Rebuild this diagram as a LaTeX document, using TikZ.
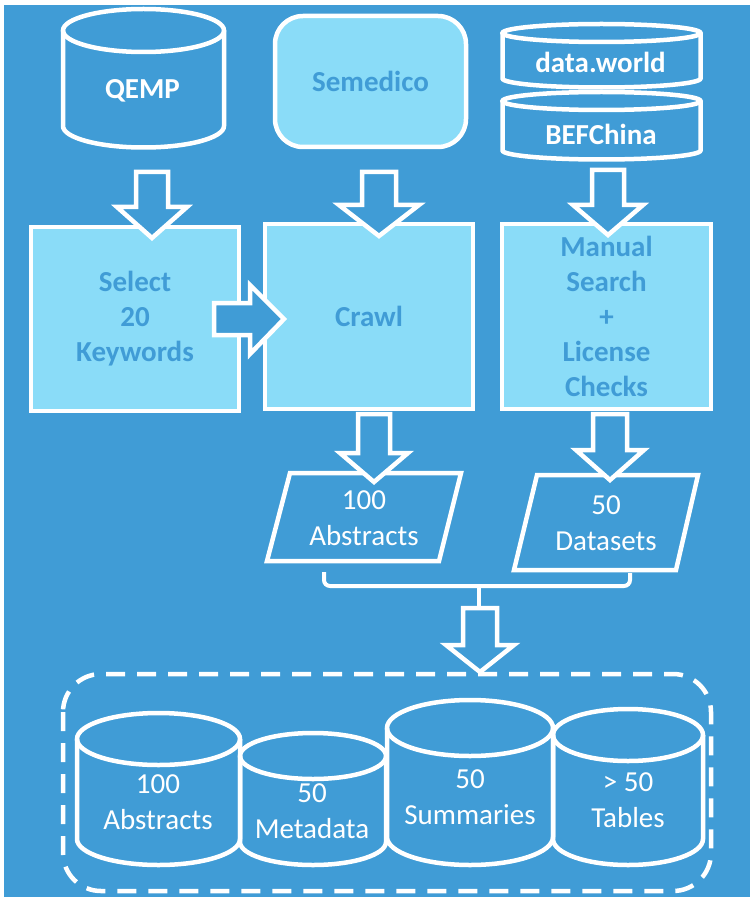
\documentclass[tikz,border=0pt]{standalone}
\usepackage{fontspec}
\setmainfont{Carlito}
\definecolor{bg}{RGB}{64,156,214}
\definecolor{lite}{RGB}{138,220,248}
\tikzset{
  wline/.style={draw=white, line width=4.5pt},
  lbox/.style={wline, fill=lite, inner sep=0pt},
  blk/.style={wline, fill=bg, line join=miter, miter limit=10},
  boldw/.style={text=white, font=\fontsize{29}{35}\selectfont\bfseries, align=center, inner sep=0pt},
  boldb/.style={text=bg, font=\fontsize{29}{35}\selectfont\bfseries, align=center},
  regw/.style={text=white, font=\fontsize{29}{35.5}\selectfont, align=center, inner sep=0pt},
  bracket/.style={draw=white, line width=4pt, rounded corners=6pt},
  dashbox/.style={draw=white, line width=4.5pt, dash pattern=on 19pt off 12pt, rounded corners=38pt}
}
\newcommand\mycyl[5]{% x1 x2 ytop ybot ry
  \pgfmathsetmacro\cx{(#1+#2)/2}\pgfmathsetmacro\rx{(#2-#1)/2}%
  \pgfmathsetmacro\ct{#3+#5}\pgfmathsetmacro\cb{#4-#5}%
  \draw[wline] (#1,\ct) -- (#1,\cb) arc[start angle=180,end angle=360,x radius=\rx pt,y radius=#5pt] -- (#2,\ct);
  \draw[wline] (\cx,\ct) ellipse[x radius=\rx pt, y radius=#5pt];
}
\newcommand\darrow[6]{% cx, shaft half, head half, ytop, ybase, ytip
  \draw[blk] (#1-#2,#4) -- (#1+#2,#4) -- (#1+#2,#5) -- (#1+#3,#5) -- (#1,#6) -- (#1-#3,#5) -- (#1-#2,#5) -- cycle;
}
\begin{document}
\begin{tikzpicture}[x=1pt,y=-1pt]
\useasboundingbox (0,0) rectangle (755,901);
\fill[white] (0,0) rectangle (755,901);
\fill[bg] (4,5) rectangle (750,897);

% top sources
\mycyl{63}{224}{9}{147.5}{21.5}
\node[boldw] (qemp) at (142.5,90.5) {QEMP};
\node[lbox, rounded corners=28pt, minimum width=191pt, minimum height=131pt] (semedico) at (370.5,81.5) {};
\node[boldb] at (semedico.center) {Semedico};
\mycyl{502.5}{700.5}{24}{87.5}{9}
\node[boldw] (dataworld) at (600.5,62.5) {data.world};
\mycyl{502.5}{700.5}{92}{159.5}{9}
\node[boldw] (befchina) at (601,134.5) {BEFChina};

% process boxes
\node[lbox, minimum width=208pt, minimum height=184pt, boldb] (select) at (135,319) {Select\\20\\Keywords};
\node[lbox, minimum width=208pt, minimum height=185pt, boldb] (crawl) at (369,316.5) {Crawl};
\node[lbox, minimum width=209pt, minimum height=185pt, boldb] (manual) at (606.5,316.5) {Manual\\Search\\+\\License\\Checks};

% block arrows
\darrow{152}{16}{35}{172}{207}{238}
\darrow{379}{17}{40}{172}{205}{236}
\darrow{608}{16}{35}{170}{205}{235}
\draw[blk] (214,303) -- (250,303) -- (250,285) -- (284,319) -- (250,354) -- (250,335) -- (214,335) -- cycle;

% outputs
\draw[wline] (290,473) -- (461,473) -- (439,561) -- (267,561) -- cycle;
\node[regw] (abstracts) at (364,518) {100\\Abstracts};
\draw[wline] (537,475) -- (698,475) -- (676,570) -- (514,570) -- cycle;
\node[regw] (datasets) at (606,523) {50\\Datasets};
\darrow{374}{16}{34}{414}{453}{482}
\darrow{610}{17}{34}{414}{450}{480}

% bracket
\coordinate (bl) at (324,572);
\coordinate (br) at (630,573);
\coordinate (bm) at (479,586);
\coordinate (bs) at (479,610);
\draw[bracket] (bl) -- (324,586) -- (630,586) -- (br);
\draw[bracket] (bm) -- (bs);
\darrow{480}{17}{34}{608}{645}{672}

% result store
\draw[dashbox] (63,674) rectangle (711,891);
\mycyl{77}{240}{713}{865}{26}
\node[regw] (c1) at (158,802) {100\\Abstracts};
\mycyl{240}{386}{733}{865}{23}
\node[regw] (c2) at (312,811) {50\\Metadata};
\mycyl{387}{553}{700}{865}{28}
\node[regw] (c3) at (470,797) {50\\Summaries};
\mycyl{553}{703}{709}{865}{26}
\node[regw] (c4) at (628,800) {> 50\\Tables};
\end{tikzpicture}
\end{document}
